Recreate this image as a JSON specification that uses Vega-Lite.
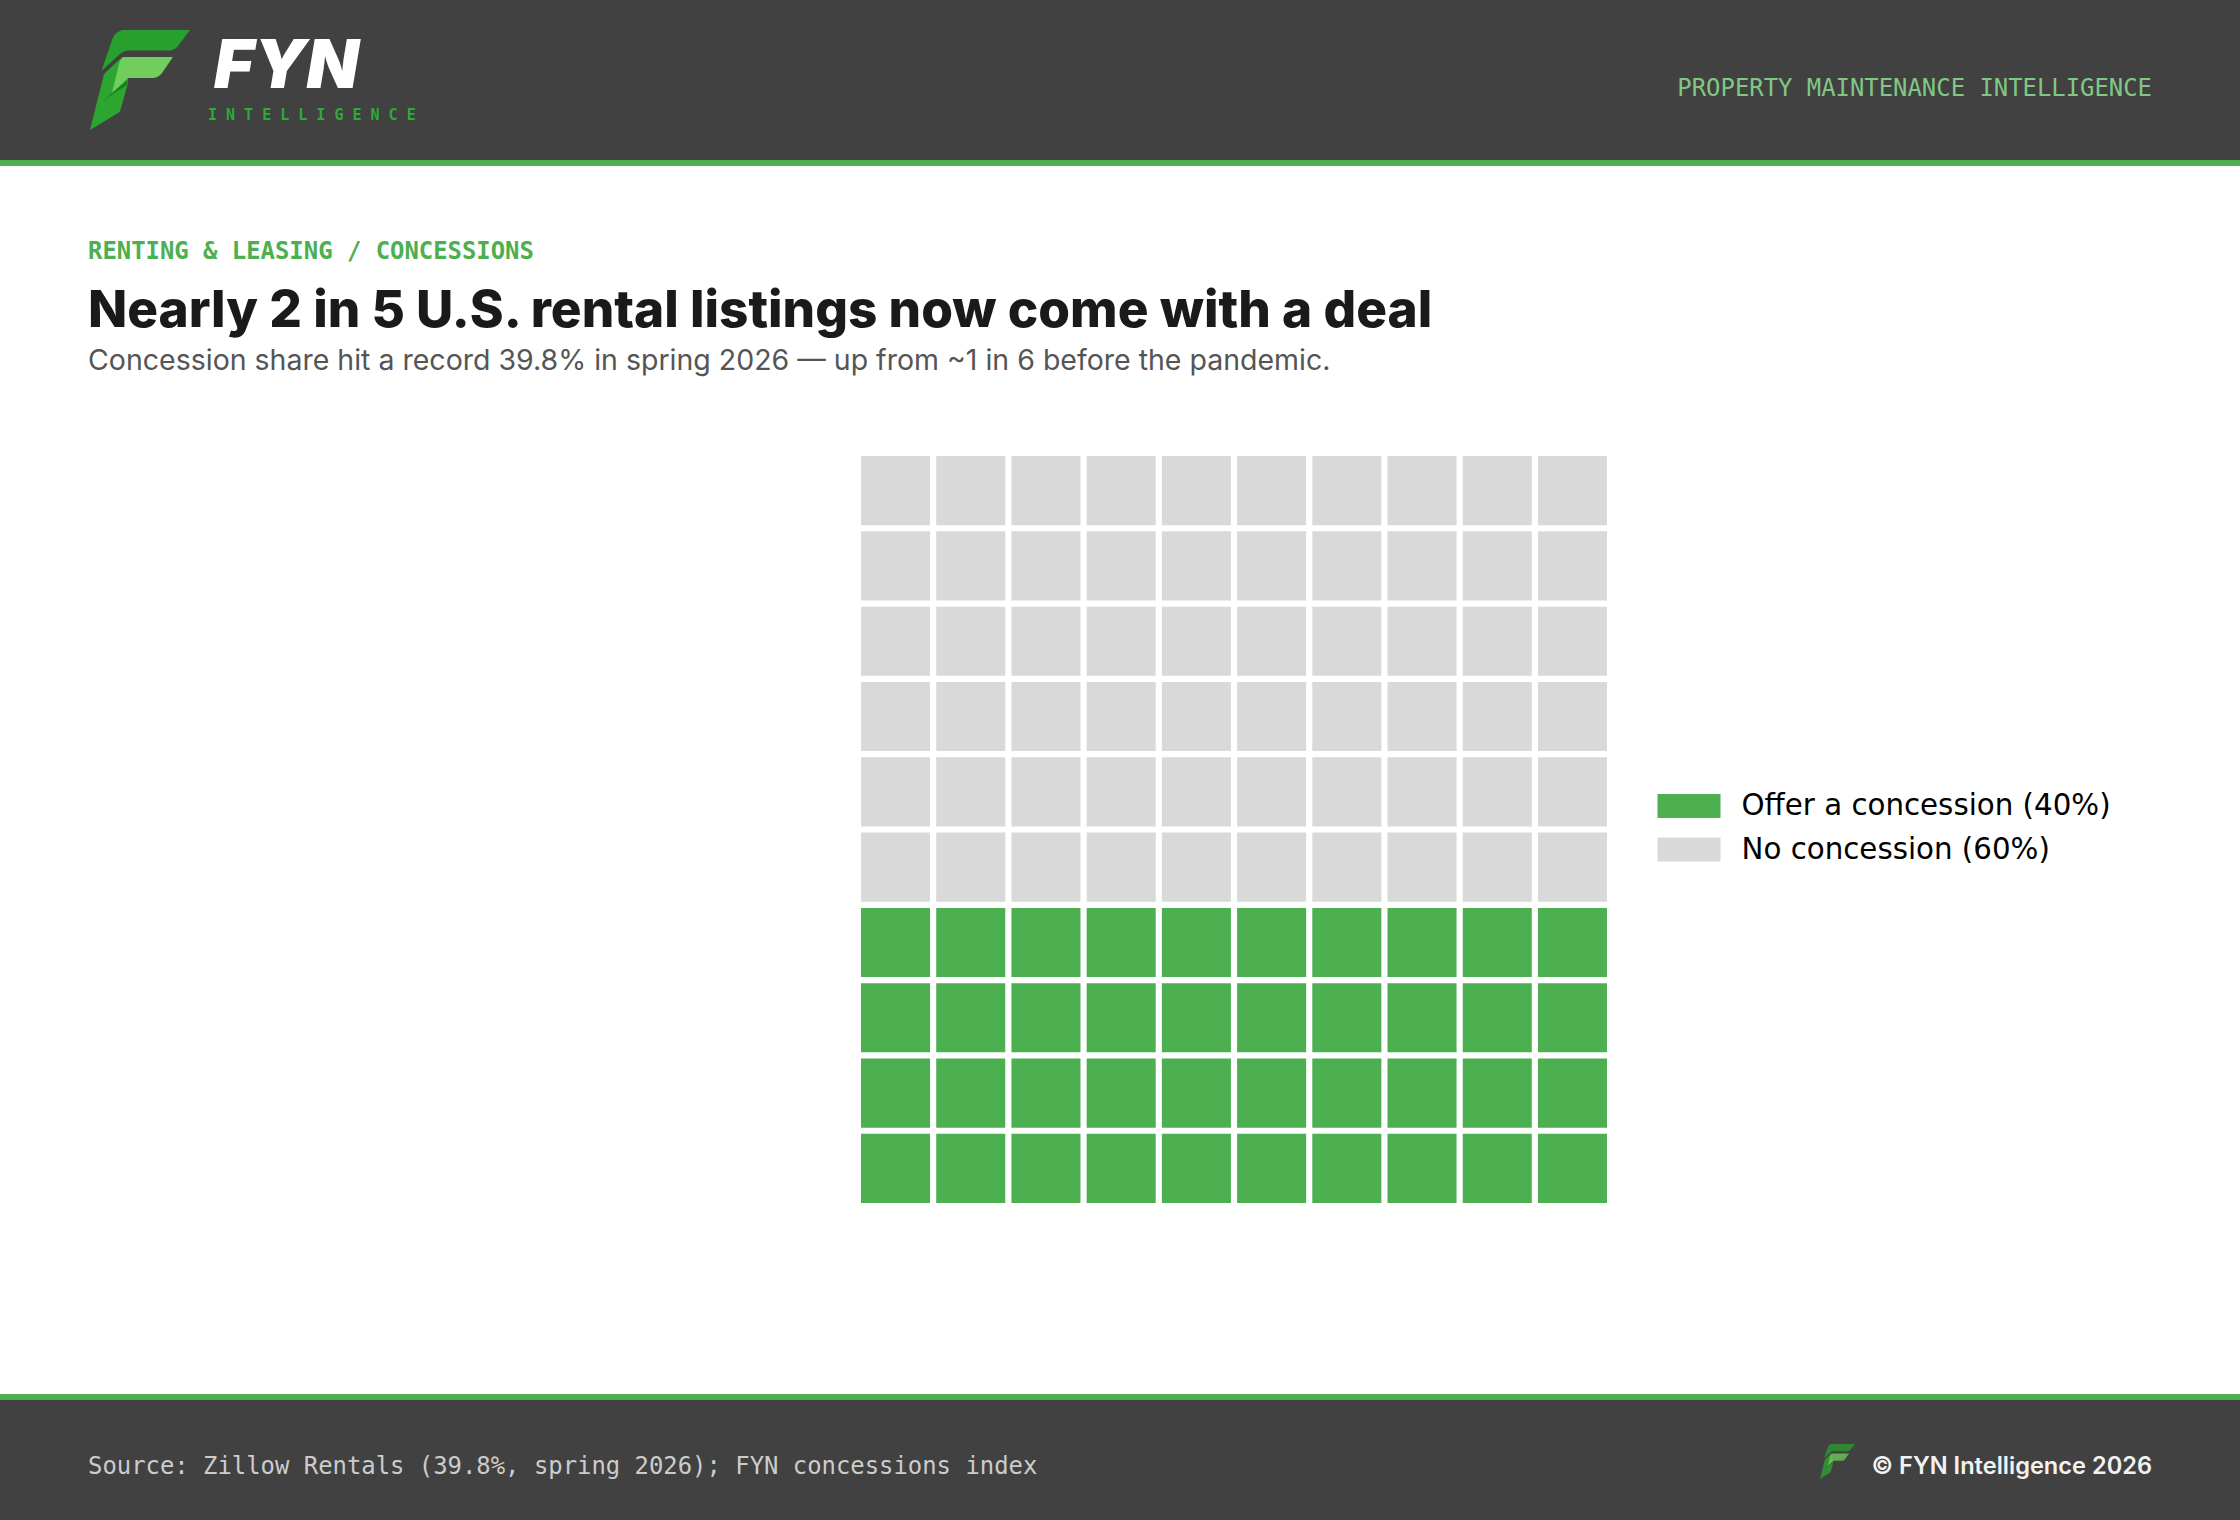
{
  "$schema": "https://vega.github.io/schema/vega-lite/v6.json",
  "width": 2240,
  "height": 1520,
  "padding": 0,
  "autosize": "none",
  "background": "#ffffff",
  "config": {"view": {"stroke": null}, "axis": {"disable": true}},
  "datasets": {
    "logo": [{"piece": "lower"}, {"piece": "top"}, {"piece": "light"}, {"piece": "shadow"}],
    "cells": [
      {"col":1,"row":10,"group":"No concession (60%)"},{"col":2,"row":10,"group":"No concession (60%)"},{"col":3,"row":10,"group":"No concession (60%)"},{"col":4,"row":10,"group":"No concession (60%)"},{"col":5,"row":10,"group":"No concession (60%)"},{"col":6,"row":10,"group":"No concession (60%)"},{"col":7,"row":10,"group":"No concession (60%)"},{"col":8,"row":10,"group":"No concession (60%)"},{"col":9,"row":10,"group":"No concession (60%)"},{"col":10,"row":10,"group":"No concession (60%)"},
      {"col":1,"row":9,"group":"No concession (60%)"},{"col":2,"row":9,"group":"No concession (60%)"},{"col":3,"row":9,"group":"No concession (60%)"},{"col":4,"row":9,"group":"No concession (60%)"},{"col":5,"row":9,"group":"No concession (60%)"},{"col":6,"row":9,"group":"No concession (60%)"},{"col":7,"row":9,"group":"No concession (60%)"},{"col":8,"row":9,"group":"No concession (60%)"},{"col":9,"row":9,"group":"No concession (60%)"},{"col":10,"row":9,"group":"No concession (60%)"},
      {"col":1,"row":8,"group":"No concession (60%)"},{"col":2,"row":8,"group":"No concession (60%)"},{"col":3,"row":8,"group":"No concession (60%)"},{"col":4,"row":8,"group":"No concession (60%)"},{"col":5,"row":8,"group":"No concession (60%)"},{"col":6,"row":8,"group":"No concession (60%)"},{"col":7,"row":8,"group":"No concession (60%)"},{"col":8,"row":8,"group":"No concession (60%)"},{"col":9,"row":8,"group":"No concession (60%)"},{"col":10,"row":8,"group":"No concession (60%)"},
      {"col":1,"row":7,"group":"No concession (60%)"},{"col":2,"row":7,"group":"No concession (60%)"},{"col":3,"row":7,"group":"No concession (60%)"},{"col":4,"row":7,"group":"No concession (60%)"},{"col":5,"row":7,"group":"No concession (60%)"},{"col":6,"row":7,"group":"No concession (60%)"},{"col":7,"row":7,"group":"No concession (60%)"},{"col":8,"row":7,"group":"No concession (60%)"},{"col":9,"row":7,"group":"No concession (60%)"},{"col":10,"row":7,"group":"No concession (60%)"},
      {"col":1,"row":6,"group":"No concession (60%)"},{"col":2,"row":6,"group":"No concession (60%)"},{"col":3,"row":6,"group":"No concession (60%)"},{"col":4,"row":6,"group":"No concession (60%)"},{"col":5,"row":6,"group":"No concession (60%)"},{"col":6,"row":6,"group":"No concession (60%)"},{"col":7,"row":6,"group":"No concession (60%)"},{"col":8,"row":6,"group":"No concession (60%)"},{"col":9,"row":6,"group":"No concession (60%)"},{"col":10,"row":6,"group":"No concession (60%)"},
      {"col":1,"row":5,"group":"No concession (60%)"},{"col":2,"row":5,"group":"No concession (60%)"},{"col":3,"row":5,"group":"No concession (60%)"},{"col":4,"row":5,"group":"No concession (60%)"},{"col":5,"row":5,"group":"No concession (60%)"},{"col":6,"row":5,"group":"No concession (60%)"},{"col":7,"row":5,"group":"No concession (60%)"},{"col":8,"row":5,"group":"No concession (60%)"},{"col":9,"row":5,"group":"No concession (60%)"},{"col":10,"row":5,"group":"No concession (60%)"},
      {"col":1,"row":4,"group":"Offer a concession (40%)"},{"col":2,"row":4,"group":"Offer a concession (40%)"},{"col":3,"row":4,"group":"Offer a concession (40%)"},{"col":4,"row":4,"group":"Offer a concession (40%)"},{"col":5,"row":4,"group":"Offer a concession (40%)"},{"col":6,"row":4,"group":"Offer a concession (40%)"},{"col":7,"row":4,"group":"Offer a concession (40%)"},{"col":8,"row":4,"group":"Offer a concession (40%)"},{"col":9,"row":4,"group":"Offer a concession (40%)"},{"col":10,"row":4,"group":"Offer a concession (40%)"},
      {"col":1,"row":3,"group":"Offer a concession (40%)"},{"col":2,"row":3,"group":"Offer a concession (40%)"},{"col":3,"row":3,"group":"Offer a concession (40%)"},{"col":4,"row":3,"group":"Offer a concession (40%)"},{"col":5,"row":3,"group":"Offer a concession (40%)"},{"col":6,"row":3,"group":"Offer a concession (40%)"},{"col":7,"row":3,"group":"Offer a concession (40%)"},{"col":8,"row":3,"group":"Offer a concession (40%)"},{"col":9,"row":3,"group":"Offer a concession (40%)"},{"col":10,"row":3,"group":"Offer a concession (40%)"},
      {"col":1,"row":2,"group":"Offer a concession (40%)"},{"col":2,"row":2,"group":"Offer a concession (40%)"},{"col":3,"row":2,"group":"Offer a concession (40%)"},{"col":4,"row":2,"group":"Offer a concession (40%)"},{"col":5,"row":2,"group":"Offer a concession (40%)"},{"col":6,"row":2,"group":"Offer a concession (40%)"},{"col":7,"row":2,"group":"Offer a concession (40%)"},{"col":8,"row":2,"group":"Offer a concession (40%)"},{"col":9,"row":2,"group":"Offer a concession (40%)"},{"col":10,"row":2,"group":"Offer a concession (40%)"},
      {"col":1,"row":1,"group":"Offer a concession (40%)"},{"col":2,"row":1,"group":"Offer a concession (40%)"},{"col":3,"row":1,"group":"Offer a concession (40%)"},{"col":4,"row":1,"group":"Offer a concession (40%)"},{"col":5,"row":1,"group":"Offer a concession (40%)"},{"col":6,"row":1,"group":"Offer a concession (40%)"},{"col":7,"row":1,"group":"Offer a concession (40%)"},{"col":8,"row":1,"group":"Offer a concession (40%)"},{"col":9,"row":1,"group":"Offer a concession (40%)"},{"col":10,"row":1,"group":"Offer a concession (40%)"}
    ]
  },
  "layer": [
    {
      "layer": [
        {
          "data": {"values": [{"part": "header"}]},
          "mark": {"type": "rect", "color": "#414141"},
          "encoding": {
            "x": {"datum": 0, "type": "quantitative", "scale": {"domain": [0, 2240], "nice": false, "zero": false}},
            "x2": {"datum": 2240},
            "y": {"datum": 0, "type": "quantitative", "scale": {"domain": [0, 1520], "reverse": true, "nice": false, "zero": false}},
            "y2": {"datum": 160}
          }
        },
        {
          "data": {"values": [{"part": "header rule"}]},
          "mark": {"type": "rect", "color": "#4CAF50"},
          "encoding": {"x": {"datum": 0, "type": "quantitative"}, "x2": {"datum": 2240}, "y": {"datum": 160, "type": "quantitative"}, "y2": {"datum": 166}}
        },
        {
          "data": {"values": [{"part": "footer"}]},
          "mark": {"type": "rect", "color": "#414141"},
          "encoding": {"x": {"datum": 0, "type": "quantitative"}, "x2": {"datum": 2240}, "y": {"datum": 1400, "type": "quantitative"}, "y2": {"datum": 1520}}
        },
        {
          "data": {"values": [{"part": "footer rule"}]},
          "mark": {"type": "rect", "color": "#4CAF50"},
          "encoding": {"x": {"datum": 0, "type": "quantitative"}, "x2": {"datum": 2240}, "y": {"datum": 1394, "type": "quantitative"}, "y2": {"datum": 1400}}
        },
        {
          "data": {"name": "logo"},
          "mark": {"type": "point", "filled": true, "size": 4, "opacity": 1, "strokeWidth": 0},
          "encoding": {
            "x": {"datum": 90, "type": "quantitative"},
            "y": {"datum": 30, "type": "quantitative"},
            "shape": {"field": "piece", "legend": null, "scale": {"domain": ["lower", "top", "light", "shadow"], "range": [
              "M32 27L15 43Q13 45 13 48L0 100L28 83Q31 81 31 78L38 53L38 48L30 30Z",
              "M32 0L100 0L88 16Q84 20.5 79 20.5L37 20.5Q33 21 30 24L11.5 41L22 10Q25 2 32 0Z",
              "M33 27L83 27L72 43Q69 47 64 48L38 48L22 63L29 34Q30 29 33 27Z",
              "M13 71L22 63L38 50L37 55L24 63Z"
            ]}},
            "color": {"field": "piece", "legend": null, "scale": {"domain": ["lower", "top", "light", "shadow"], "range": ["#2CA531", "#28A02D", "#71CE5C", "#1B7A25"]}}
          }
        },
        {
          "data": {"name": "logo"},
          "mark": {"type": "point", "filled": true, "size": 0.49, "opacity": 0.75, "strokeWidth": 0},
          "encoding": {
            "x": {"datum": 1820, "type": "quantitative"},
            "y": {"datum": 1444, "type": "quantitative"},
            "shape": {"field": "piece", "legend": null},
            "color": {"field": "piece", "legend": null}
          }
        },
        {
          "data": {"values": [{"label": "FYN"}]},
          "mark": {"type": "text", "font": "Inter", "fontSize": 68, "fontWeight": 900, "fontStyle": "italic", "color": "#ffffff", "align": "left", "baseline": "alphabetic"},
          "encoding": {"x": {"datum": 214, "type": "quantitative"}, "y": {"datum": 88, "type": "quantitative"}, "text": {"field": "label"}}
        },
        {
          "data": {"values": [{"label": "I N T E L L I G E N C E"}]},
          "mark": {"type": "text", "font": "DejaVu Sans Mono", "fontSize": 15, "fontWeight": "bold", "color": "#2EAA35", "align": "left", "baseline": "alphabetic"},
          "encoding": {"x": {"datum": 208, "type": "quantitative"}, "y": {"datum": 120, "type": "quantitative"}, "text": {"field": "label"}}
        },
        {
          "data": {"values": [{"label": "PROPERTY MAINTENANCE INTELLIGENCE"}]},
          "mark": {"type": "text", "font": "DejaVu Sans Mono", "fontSize": 23.9, "color": "#81C784", "align": "right", "baseline": "alphabetic"},
          "encoding": {"x": {"datum": 2152, "type": "quantitative"}, "y": {"datum": 96, "type": "quantitative"}, "text": {"field": "label"}}
        },
        {
          "data": {"values": [{"label": "RENTING & LEASING / CONCESSIONS"}]},
          "mark": {"type": "text", "font": "DejaVu Sans Mono", "fontSize": 23.9, "fontWeight": "bold", "color": "#4CAF50", "align": "left", "baseline": "alphabetic"},
          "encoding": {"x": {"datum": 88, "type": "quantitative"}, "y": {"datum": 259, "type": "quantitative"}, "text": {"field": "label"}}
        },
        {
          "data": {"values": [{"label": "Nearly 2 in 5 U.S. rental listings now come with a deal"}]},
          "mark": {"type": "text", "font": "Inter", "fontSize": 51.3, "fontWeight": 800, "color": "#1A1A1A", "align": "left", "baseline": "alphabetic"},
          "encoding": {"x": {"datum": 88, "type": "quantitative"}, "y": {"datum": 327, "type": "quantitative"}, "text": {"field": "label"}}
        },
        {
          "data": {"values": [{"label": "Concession share hit a record 39.8% in spring 2026 — up from ~1 in 6 before the pandemic."}]},
          "mark": {"type": "text", "font": "Inter", "fontSize": 28.5, "color": "#555555", "align": "left", "baseline": "alphabetic"},
          "encoding": {"x": {"datum": 88, "type": "quantitative"}, "y": {"datum": 370, "type": "quantitative"}, "text": {"field": "label"}}
        },
        {
          "data": {"values": [{"label": "Source: Zillow Rentals (39.8%, spring 2026); FYN concessions index"}]},
          "mark": {"type": "text", "font": "DejaVu Sans Mono", "fontSize": 23.9, "color": "#CCCCCC", "align": "left", "baseline": "alphabetic"},
          "encoding": {"x": {"datum": 88, "type": "quantitative"}, "y": {"datum": 1474, "type": "quantitative"}, "text": {"field": "label"}}
        },
        {
          "data": {"values": [{"label": "© FYN Intelligence 2026"}]},
          "mark": {"type": "text", "font": "Inter", "fontSize": 23.6, "fontWeight": 600, "color": "#F2F2F2", "align": "right", "baseline": "alphabetic"},
          "encoding": {"x": {"datum": 2152, "type": "quantitative"}, "y": {"datum": 1474, "type": "quantitative"}, "text": {"field": "label"}}
        }
      ]
    },
    {
      "data": {"name": "cells"},
      "mark": {"type": "rect"},
      "encoding": {
        "x": {"field": "col", "type": "ordinal", "scale": {"type": "band", "range": [861, 1607], "paddingInner": 0.082, "paddingOuter": 0}},
        "y": {"field": "row", "type": "ordinal", "sort": "descending", "scale": {"type": "band", "range": [456, 1203], "paddingInner": 0.082, "paddingOuter": 0}},
        "color": {
          "field": "group",
          "type": "nominal",
          "scale": {"domain": ["Offer a concession (40%)", "No concession (60%)"], "range": ["#4CAF50", "#D9D9D9"]},
          "legend": {
            "title": null,
            "orient": "none",
            "legendX": 1673,
            "legendY": 790,
            "symbolType": "M-2,-0.76H2V0.76H-2Z",
            "symbolSize": 992,
            "symbolStrokeWidth": 0,
            "symbolOpacity": 1,
            "labelFont": "DejaVu Sans",
            "labelFontSize": 29.3,
            "labelColor": "#000000",
            "labelOffset": 36.5,
            "rowPadding": 11.5,
            "labelLimit": 600
          }
        }
      }
    }
  ],
  "resolve": {"scale": {"x": "independent", "y": "independent", "color": "independent", "shape": "independent"}}
}
